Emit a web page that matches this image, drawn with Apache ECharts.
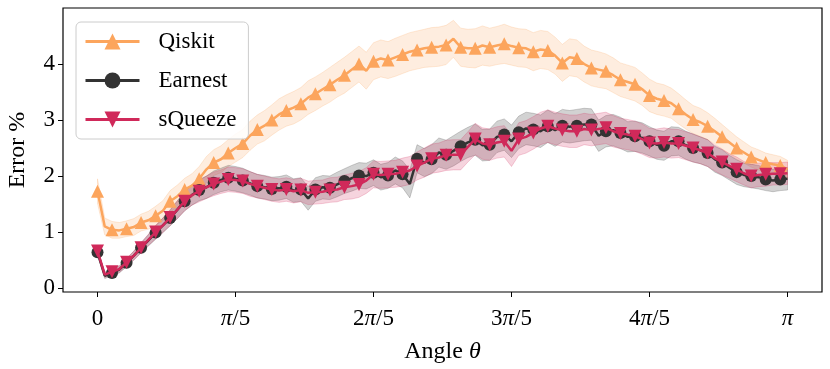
<!DOCTYPE html>
<html>
<head>
<meta charset="utf-8">
<script src="https://cdn.jsdelivr.net/npm/echarts@6/dist/echarts.min.js"></script>
<style>
  html, body { margin: 0; padding: 0; background: #fff; }
  #chart { width: 830px; height: 369px; }
</style>
</head>
<body>
<div id="chart"></div>
<script>
// 96 angles from 0 to pi
const nPoints = 96;
const angles = Array.from({ length: nPoints }, (_, i) => i * Math.PI / (nPoints - 1));

const qiskit = [
  1.73, 1.10, 1.04, 1.03, 1.06, 1.09, 1.17, 1.21, 1.29, 1.38,
  1.55, 1.64, 1.76, 1.83, 1.95, 2.12, 2.24, 2.30, 2.41, 2.50,
  2.58, 2.72, 2.83, 2.90, 3.00, 3.10, 3.17, 3.22, 3.29, 3.40,
  3.47, 3.55, 3.63, 3.72, 3.80, 3.90, 4.00, 3.88, 4.05, 4.10,
  4.07, 4.12, 4.17, 4.22, 4.25, 4.28, 4.30, 4.31, 4.34, 4.45,
  4.30, 4.28, 4.28, 4.33, 4.30, 4.33, 4.36, 4.32, 4.29, 4.28,
  4.22, 4.26, 4.24, 4.15, 4.02, 4.12, 4.10, 4.00, 3.93, 3.90,
  3.87, 3.80, 3.72, 3.68, 3.64, 3.55, 3.44, 3.38, 3.35, 3.30,
  3.20, 3.10, 3.01, 2.96, 2.89, 2.80, 2.70, 2.60, 2.50, 2.42,
  2.34, 2.29, 2.24, 2.21, 2.19, 2.12
];
const qiskitStd = [
  0.22, 0.15, 0.15, 0.14, 0.14, 0.15, 0.15, 0.16, 0.17, 0.18,
  0.19, 0.20, 0.20, 0.21, 0.22, 0.23, 0.23, 0.24, 0.24, 0.25,
  0.25, 0.26, 0.26, 0.27, 0.27, 0.28, 0.28, 0.29, 0.29, 0.30,
  0.30, 0.30, 0.31, 0.31, 0.32, 0.32, 0.32, 0.33, 0.33, 0.33,
  0.33, 0.34, 0.34, 0.34, 0.34, 0.34, 0.35, 0.35, 0.35, 0.33,
  0.34, 0.34, 0.35, 0.35, 0.34, 0.34, 0.35, 0.34, 0.34, 0.34,
  0.34, 0.34, 0.34, 0.33, 0.33, 0.33, 0.33, 0.32, 0.32, 0.32,
  0.31, 0.31, 0.30, 0.30, 0.30, 0.29, 0.29, 0.28, 0.28, 0.27,
  0.27, 0.26, 0.25, 0.25, 0.24, 0.23, 0.22, 0.21, 0.20, 0.19,
  0.18, 0.18, 0.17, 0.17, 0.16, 0.16
];

const earnest = [
  0.64, 0.22, 0.27, 0.33, 0.45, 0.58, 0.72, 0.85, 0.99, 1.12,
  1.25, 1.40, 1.55, 1.66, 1.75, 1.80, 1.88, 1.93, 1.97, 1.95,
  1.92, 1.87, 1.82, 1.80, 1.77, 1.78, 1.81, 1.74, 1.76, 1.60,
  1.76, 1.80, 1.79, 1.85, 1.91, 1.96, 2.01, 2.00, 2.06, 1.98,
  2.01, 2.10, 2.03, 1.86, 2.31, 2.24, 2.30, 2.42, 2.38, 2.45,
  2.53, 2.60, 2.65, 2.55, 2.56, 2.70, 2.74, 2.62, 2.78, 2.85,
  2.83, 2.80, 2.89, 2.82, 2.90, 2.88, 2.90, 2.92, 2.92, 2.72,
  2.80, 2.82, 2.77, 2.70, 2.71, 2.68, 2.62, 2.56, 2.54, 2.62,
  2.62, 2.55, 2.50, 2.46, 2.41, 2.30, 2.24, 2.15, 2.07, 2.02,
  2.00, 1.98, 1.94, 1.92, 1.94, 1.95
];
const earnestStd = [
  0.06, 0.05, 0.05, 0.06, 0.07, 0.08, 0.09, 0.10, 0.12, 0.13,
  0.14, 0.16, 0.17, 0.18, 0.19, 0.20, 0.21, 0.21, 0.22, 0.22,
  0.22, 0.21, 0.21, 0.21, 0.21, 0.21, 0.21, 0.21, 0.21, 0.21,
  0.21, 0.21, 0.21, 0.22, 0.22, 0.23, 0.23, 0.23, 0.23, 0.23,
  0.23, 0.24, 0.24, 0.25, 0.25, 0.25, 0.26, 0.26, 0.26, 0.27,
  0.27, 0.27, 0.28, 0.28, 0.28, 0.28, 0.28, 0.29, 0.29, 0.29,
  0.29, 0.29, 0.29, 0.29, 0.29, 0.29, 0.29, 0.29, 0.28, 0.28,
  0.28, 0.28, 0.28, 0.27, 0.27, 0.27, 0.26, 0.26, 0.26, 0.26,
  0.25, 0.25, 0.25, 0.24, 0.24, 0.23, 0.23, 0.22, 0.22, 0.21,
  0.21, 0.21, 0.20, 0.20, 0.20, 0.20
];

const squeeze = [
  0.66, 0.24, 0.29, 0.34, 0.46, 0.58, 0.72, 0.86, 1.00, 1.12,
  1.26, 1.40, 1.55, 1.66, 1.73, 1.80, 1.86, 1.90, 1.94, 1.93,
  1.91, 1.86, 1.82, 1.79, 1.76, 1.74, 1.76, 1.73, 1.75, 1.70,
  1.71, 1.72, 1.75, 1.76, 1.80, 1.82, 1.85, 1.92, 2.03, 2.02,
  2.03, 2.04, 2.07, 2.10, 2.18, 2.24, 2.31, 2.33, 2.37, 2.38,
  2.38, 2.52, 2.66, 2.58, 2.56, 2.60, 2.62, 2.45, 2.66, 2.70,
  2.77, 2.85, 2.89, 2.85, 2.82, 2.80, 2.80, 2.84, 2.82, 2.84,
  2.86, 2.80, 2.76, 2.74, 2.71, 2.66, 2.59, 2.58, 2.60, 2.58,
  2.58, 2.54, 2.50, 2.46, 2.41, 2.32, 2.25, 2.18, 2.12, 2.05,
  2.00, 2.02, 2.03, 2.04, 2.04, 2.05
];
const squeezeStd = [
  0.06, 0.05, 0.05, 0.06, 0.07, 0.08, 0.09, 0.10, 0.12, 0.13,
  0.14, 0.16, 0.17, 0.18, 0.19, 0.20, 0.21, 0.21, 0.22, 0.22,
  0.22, 0.22, 0.21, 0.21, 0.21, 0.21, 0.21, 0.21, 0.21, 0.21,
  0.21, 0.21, 0.22, 0.22, 0.22, 0.23, 0.23, 0.23, 0.24, 0.24,
  0.24, 0.24, 0.25, 0.25, 0.25, 0.26, 0.26, 0.26, 0.27, 0.27,
  0.27, 0.27, 0.28, 0.28, 0.28, 0.28, 0.28, 0.28, 0.29, 0.29,
  0.29, 0.29, 0.29, 0.29, 0.29, 0.29, 0.29, 0.28, 0.28, 0.28,
  0.28, 0.28, 0.27, 0.27, 0.27, 0.27, 0.26, 0.26, 0.26, 0.26,
  0.25, 0.25, 0.25, 0.24, 0.24, 0.23, 0.23, 0.22, 0.22, 0.21,
  0.21, 0.21, 0.21, 0.20, 0.20, 0.20
];

const xTicks = [0, Math.PI / 5, 2 * Math.PI / 5, 3 * Math.PI / 5, 4 * Math.PI / 5, Math.PI];
const xTickLabels = ["0", "{i|π}/5", "2{i|π}/5", "3{i|π}/5", "4{i|π}/5", "{i|π}"];
const yTicks = [0, 1, 2, 3, 4];

const FONT = "Liberation Serif";

const methods = [
  { name: "Qiskit", values: qiskit, std: qiskitStd, color: "#fca55d", symbol: "triangle", rotate: 0, size: 13 },
  { name: "Earnest", values: earnest, std: earnestStd, color: "#333333", symbol: "circle", rotate: 0, size: 12 },
  { name: "sQueeze", values: squeeze, std: squeezeStd, color: "#d0295a", symbol: "triangle", rotate: 180, size: 13 }
];

const hexA = (hex, a) => {
  const n = parseInt(hex.slice(1), 16);
  return `rgba(${(n >> 16) & 255},${(n >> 8) & 255},${n & 255},${a})`;
};

const series = [];
// shaded +/- std bands, drawn as one polygon per method
methods.forEach((m, k) => {
  const lo = m.values.map((v, i) => v - m.std[i]);
  const hi = m.values.map((v, i) => v + m.std[i]);
  series.push({
    name: m.name + "-band",
    type: "custom",
    silent: true,
    z: 1,
    data: angles.map((x, i) => [x, lo[i], hi[i]]),
    encode: { x: 0, y: [1, 2] },
    renderItem: (params, api) => {
      if (params.dataIndex !== 0) return null;
      const pts = [];
      angles.forEach((x, i) => pts.push(api.coord([x, hi[i]])));
      for (let i = angles.length - 1; i >= 0; i--) pts.push(api.coord([angles[i], lo[i]]));
      return {
        type: "polygon",
        shape: { points: pts },
        style: {
          fill: hexA(m.color, m.name === "Earnest" ? 0.22 : 0.2),
          stroke: hexA(m.color, 0.28),
          lineWidth: 0.8
        }
      };
    }
  });
});
methods.forEach((m, k) => {
  series.push({
    name: m.name,
    type: "line",
    data: angles.map((x, i) => [x, m.values[i]]),
    color: m.color,
    symbol: m.symbol,
    symbolRotate: m.rotate,
    symbolSize: (v, p) => (p.dataIndex % 2 === 0 ? m.size : 0),
    showSymbol: true,
    showAllSymbol: true,
    lineStyle: { width: 2.5, color: m.color },
    itemStyle: { color: m.color },
    z: 3 + k
  });
});

const chart = echarts.init(document.getElementById("chart"), null, { renderer: "canvas" });
chart.setOption({
  animation: false,
  grid: {
    left: 63, right: 8, top: 8, bottom: 77,
    outerBoundsMode: "none",
    containLabel: false,
    show: true, borderColor: "#000", borderWidth: 1.2, backgroundColor: "transparent"
  },
  legend: {
    data: methods.map(m => m.name),
    orient: "vertical",
    left: 76, top: 22,
    padding: [8, 12, 8, 8],
    itemWidth: 54, itemHeight: 20, itemGap: 16,
    lineStyle: { width: 3 },
    backgroundColor: "rgba(255,255,255,0.85)",
    borderColor: "#cccccc", borderWidth: 1, borderRadius: 5,
    textStyle: { fontFamily: FONT, fontSize: 23, color: "#000", padding: [0, 0, 0, 14] }
  },
  xAxis: {
    type: "value",
    min: -Math.PI * 0.05,
    max: Math.PI * 1.05,
    name: "Angle {i|θ}",
    nameLocation: "middle",
    nameGap: 48,
    nameTextStyle: {
      fontFamily: FONT, fontSize: 24, color: "#000",
      rich: { i: { fontFamily: FONT, fontSize: 24, fontStyle: "italic", color: "#000" } }
    },
    axisLine: { show: false, onZero: false },
    splitLine: { show: false },
    axisTick: { show: true, length: 5, lineStyle: { color: "#000" }, customValues: xTicks },
    axisLabel: {
      customValues: xTicks,
      margin: 15,
      fontFamily: FONT, fontSize: 23, color: "#000",
      formatter: v => xTickLabels[Math.round(v * 5 / Math.PI)],
      rich: { i: { fontFamily: FONT, fontSize: 23, fontStyle: "italic", color: "#000" } }
    }
  },
  yAxis: {
    type: "value",
    min: -0.07,
    max: 5.0,
    name: "Error %",
    nameLocation: "middle",
    nameGap: 33,
    nameTextStyle: { fontFamily: FONT, fontSize: 24, color: "#000" },
    axisLine: { show: false, onZero: false },
    splitLine: { show: false },
    axisTick: { show: true, length: 5, lineStyle: { color: "#000" }, customValues: yTicks },
    axisLabel: {
      customValues: yTicks,
      margin: 8,
      fontFamily: FONT, fontSize: 23, color: "#000"
    }
  },
  series: series
});

window.addEventListener("resize", () => chart.resize());
</script>
</body>
</html>
